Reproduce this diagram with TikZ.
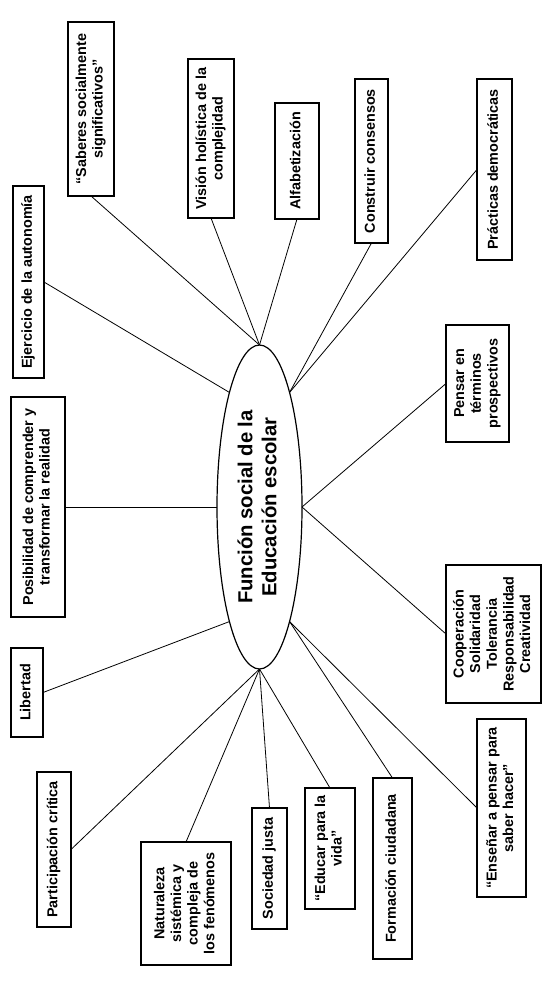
\documentclass[tikz,border=0pt]{standalone}
\usepackage{fontspec}
\setmainfont{Liberation Sans}
\usepackage{graphicx}
\usetikzlibrary{shapes.geometric}
\newcommand{\vtext}[1]{\rotatebox{90}{\begin{tabular}{@{}c@{}}#1\end{tabular}}}
\begin{document}
\begin{tikzpicture}[x=0.75pt,y=-0.75pt,
  cbox/.style 2 args={draw, line width=0.9pt, inner sep=0pt, outer sep=0pt,
    minimum width=#1*0.75pt, minimum height=#2*0.75pt,
    font=\fontsize{10.8pt}{12.5pt}\selectfont\bfseries},
  centre/.style={draw, ellipse, line width=0.9pt, inner sep=0pt, outer sep=0pt,
    minimum width=85*0.75pt, minimum height=324*0.75pt,
    font=\fontsize{15.2pt}{18pt}\selectfont\bfseries},
  link/.style={line width=0.6pt}]
\useasboundingbox (0,0) rectangle (558,992);

\node[centre] (E) at (259.5,507) {\vtext{Función social de la\\Educación escolar}};

\node[cbox={46}{174}] (sab) at (91,109) {\vtext{“Saberes socialmente\\significativos”}};
\node[cbox={46}{159}] (vis) at (211,138.5) {\vtext{Visión holística de la\\complejidad}};
\node[cbox={44}{116}] (alf) at (297,161) {\vtext{Alfabetización}};
\node[cbox={33}{164}] (con) at (371.5,161) {\vtext{Construir consensos}};
\node[cbox={35}{181}] (pra) at (494.5,169.5) {\vtext{Prácticas democráticas}};
\node[cbox={31}{192}] (eje) at (28.5,282) {\vtext{Ejercicio de la autonomía}};
\node[cbox={54}{220}] (pos) at (38,507) {\vtext{Posibilidad de comprender y\\transformar la realidad}};
\node[cbox={32}{89}] (lib) at (27,692.5) {\vtext{Libertad}};
\node[cbox={34}{155}] (par) at (54,849.5) {\vtext{Participación crítica}};
\node[cbox={90}{123}] (nat) at (186,903.5) {\vtext{Naturaleza\\sistémica y\\compleja de\\los fenómenos}};
\node[cbox={35}{121}] (soc) at (269.5,868.5) {\vtext{Sociedad justa}};
\node[cbox={50}{121}] (edu) at (330,848.5) {\vtext{“Educar para la\\vida”}};
\node[cbox={39}{181}] (form) at (392.5,868.5) {\vtext{Formación ciudadana}};
\node[cbox={49}{178}] (ens) at (501.5,808) {\vtext{“Enseñar a pensar para\\saber hacer”}};
\node[cbox={95}{138}] (coo) at (493.5,634) {\vtext{Cooperación\\Solidaridad\\Tolerancia\\Responsabilidad\\Creatividad}};
\node[cbox={63}{117}] (pen) at (477.5,383.5) {\vtext{Pensar en\\términos\\prospectivos}};

\draw[link] (sab.south) -- (E.north);
\draw[link] (vis.south) -- (E.north);
\draw[link] (alf.south) -- (E.north);
\draw[link] (con.south) -- (E.north east);
\draw[link] (pra.west) -- (E.north east);
\draw[link] (eje.east) -- (E.north west);
\draw[link] (pos.east) -- (E.west);
\draw[link] (lib.east) -- (E.south west);
\draw[link] (par.east) -- (E.south);
\draw[link] (nat.north) -- (E.south);
\draw[link] (soc.north) -- (E.south);
\draw[link] (edu.north) -- (E.south);
\draw[link] (form.north) -- (E.south east);
\draw[link] (ens.west) -- (E.south east);
\draw[link] (coo.west) -- (E.east);
\draw[link] (pen.west) -- (E.east);
\end{tikzpicture}
\end{document}
